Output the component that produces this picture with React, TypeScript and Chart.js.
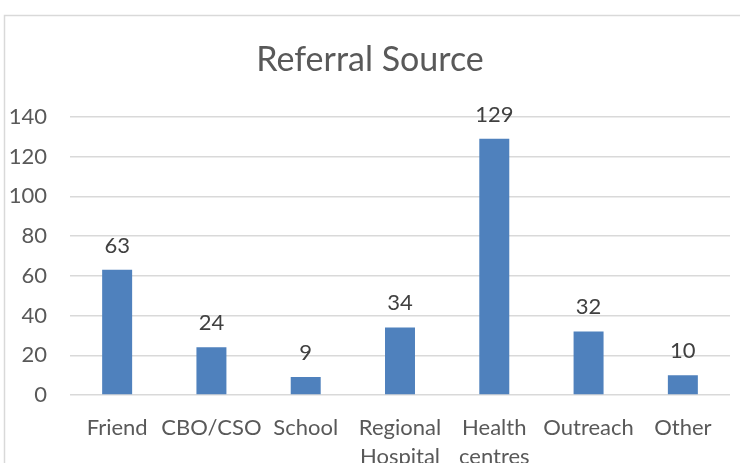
import React, { useEffect, useRef } from "react";
import { Chart, registerables } from "chart.js";

Chart.register(...registerables);

const categories: (string | string[])[] = [
  "Friend",
  "CBO/CSO",
  "School",
  ["Regional", "Hospital"],
  ["Health", "centres"],
  "Outreach",
  "Other",
];
const referrals = [63, 24, 9, 34, 129, 32, 10];
const yTicks = [0, 20, 40, 60, 80, 100, 120, 140];

const FONT = "Lato, 'Open Sans', sans-serif";
const TEXT = "#595959";

const borderPlugin = {
  id: "frameBorder",
  beforeDraw(chart: any) {
    const { ctx, width, height } = chart;
    ctx.save();
    ctx.fillStyle = "#ffffff";
    ctx.fillRect(0, 0, width, height);
    ctx.strokeStyle = "#d9d9d9";
    ctx.lineWidth = 1.5;
    ctx.beginPath();
    ctx.moveTo(4.5, height);
    ctx.lineTo(4.5, 15.5);
    ctx.lineTo(width, 15.5);
    ctx.stroke();
    ctx.restore();
  },
};

const labelPlugin = {
  id: "valueLabels",
  afterDatasetsDraw(chart: any) {
    const { ctx } = chart;
    ctx.save();
    ctx.fillStyle = "#404040";
    ctx.font = `22px ${FONT}`;
    ctx.textAlign = "center";
    ctx.textBaseline = "alphabetic";
    chart.data.datasets.forEach((ds: any, i: number) => {
      const meta = chart.getDatasetMeta(i);
      meta.data.forEach((bar: any, j: number) => {
        ctx.fillText(String(ds.data[j]), bar.x, bar.y - 17);
      });
    });
    ctx.restore();
  },
};

export default function App() {
  const ref = useRef<HTMLCanvasElement | null>(null);
  useEffect(() => {
    if (!ref.current) return;
    const chart = new Chart(ref.current, {
      type: "bar",
      data: {
        labels: categories,
        datasets: [
          {
            label: "Referral Source",
            data: referrals,
            backgroundColor: "#4f81bd",
            categoryPercentage: 1,
            barPercentage: 0.318,
          },
        ],
      },
      options: {
        responsive: false,
        animation: false,
        layout: { padding: { left: 10, right: 10, top: 0, bottom: 0 } },
        plugins: {
          legend: { display: false },
          tooltip: { enabled: false },
          title: {
            display: true,
            text: "Referral Source",
            color: TEXT,
            font: { family: FONT, size: 34, weight: "normal" },
            padding: { top: 40, bottom: 36 },
          },
        },
        scales: {
          x: {
            grid: { display: false },
            border: { display: false },
            afterFit: (s: any) => {
              s.height = 68;
            },
            ticks: {
              color: TEXT,
              font: { family: FONT, size: 22, lineHeight: 1.3 },
              padding: 11,
              maxRotation: 0,
              autoSkip: false,
            },
          },
          y: {
            min: 0,
            max: 140,
            afterBuildTicks: (axis: any) => {
              axis.ticks = yTicks.map((v) => ({ value: v }));
            },
            afterFit: (s: any) => {
              s.width = 60;
            },
            grid: { color: "#d9d9d9", lineWidth: 1.5, drawTicks: false },
            border: { display: false },
            ticks: {
              color: TEXT,
              font: { family: FONT, size: 22 },
              padding: 23,
            },
          },
        },
      },
      plugins: [borderPlugin, labelPlugin],
    });
    return () => chart.destroy();
  }, []);
  return (
    <div style={{ position: "fixed", left: 0, top: 0, width: 740, height: 463 }}>
      <canvas ref={ref} width={740} height={463} style={{ width: 740, height: 463 }} />
    </div>
  );
}
